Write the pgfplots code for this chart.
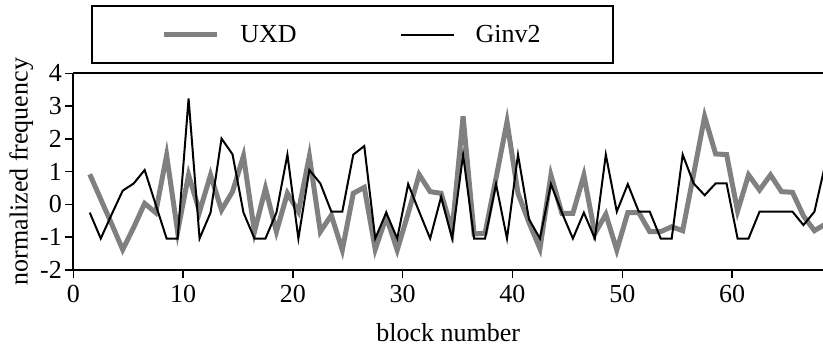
\documentclass[border=0pt]{standalone}
\usepackage{fontspec}
\setmainfont{Liberation Serif}
\usepackage{pgfplots}
\pgfplotsset{compat=1.18}
\usepackage{pgfplotstable}
\definecolor{uxdgray}{RGB}{128,128,128}
\newcommand{\fs}{\fontsize{26bp}{31bp}\selectfont}
\pgfplotstableread{
x y
1.5 0.92
2.5 0.16
3.5 -0.60
4.5 -1.38
5.5 -0.70
6.5 0.03
7.5 -0.25
8.5 1.50
9.5 -0.83
10.5 0.90
11.5 -0.22
12.5 0.90
13.5 -0.17
14.5 0.39
15.5 1.48
16.5 -0.83
17.5 0.49
18.5 -0.83
19.5 0.34
20.5 -0.22
21.5 1.47
22.5 -0.83
23.5 -0.33
24.5 -1.39
25.5 0.34
26.5 0.52
27.5 -1.37
28.5 -0.38
29.5 -1.39
30.5 -0.27
31.5 0.91
32.5 0.39
33.5 0.34
34.5 -0.80
35.5 2.69
36.5 -0.90
37.5 -0.88
38.5 0.80
39.5 2.52
40.5 0.34
41.5 -0.55
42.5 -1.35
43.5 0.89
44.5 -0.27
45.5 -0.27
46.5 0.89
47.5 -0.89
48.5 -0.30
49.5 -1.39
50.5 -0.25
51.5 -0.25
52.5 -0.83
53.5 -0.83
54.5 -0.68
55.5 -0.80
56.5 0.93
57.5 2.68
58.5 1.54
59.5 1.52
60.5 -0.20
61.5 0.90
62.5 0.44
63.5 0.90
64.5 0.39
65.5 0.37
66.5 -0.35
67.5 -0.80
68.5 -0.60
}\uxd
\pgfplotstableread{
x y
1.5 -0.25
2.5 -1.04
3.5 -0.30
4.5 0.42
5.5 0.64
6.5 1.05
7.5 0.00
8.5 -1.04
9.5 -1.04
10.5 3.23
11.5 -1.04
12.5 -0.25
13.5 2.01
14.5 1.53
15.5 -0.25
16.5 -1.04
17.5 -1.04
18.5 -0.25
19.5 1.52
20.5 -1.04
21.5 1.05
22.5 0.64
23.5 -0.22
24.5 -0.22
25.5 1.52
26.5 1.78
27.5 -1.04
28.5 -0.25
29.5 -1.04
30.5 0.62
31.5 -0.22
32.5 -1.04
33.5 0.23
34.5 -1.04
35.5 1.52
36.5 -1.04
37.5 -1.04
38.5 0.62
39.5 -1.04
40.5 1.52
41.5 -0.45
42.5 -1.04
43.5 0.62
44.5 -0.25
45.5 -1.04
46.5 -0.25
47.5 -1.04
48.5 1.52
49.5 -0.22
50.5 0.62
51.5 -0.22
52.5 -0.22
53.5 -1.04
54.5 -1.04
55.5 1.52
56.5 0.64
57.5 0.28
58.5 0.64
59.5 0.64
60.5 -1.04
61.5 -1.04
62.5 -0.22
63.5 -0.22
64.5 -0.22
65.5 -0.22
66.5 -0.63
67.5 -0.22
68.5 1.25
}\ginv
\begin{document}
\begin{tikzpicture}
\path[use as bounding box] (0,0) rectangle (823bp,347bp);
\begin{axis}[
  at={(73.3bp,77bp)}, anchor=south west,
  scale only axis, width=749.7bp, height=196.7bp,
  xmin=0, xmax=68.28, ymin=-2, ymax=4,
  xtick={0,10,...,60}, ytick={-2,-1,...,4},
  axis x line*=bottom, axis y line*=left,
  axis line style={line width=2bp, -},
  tick align=outside, major tick length=8bp,
  tick style={line width=1.5bp, black},
  /pgf/number format/assume math mode=true,
  tick label style={font=\fs},
  xticklabel style={yshift=-4bp},
  label style={font=\fs},
  xlabel style={yshift=-14bp},
  xlabel={block number}, ylabel={normalized frequency},
  legend columns=2,
  legend image code/.code={\draw[#1] (0bp,0bp) -- (53bp,0bp);},
  legend style={at={(0.3724,1.197)}, anchor=center, draw=black, line width=2bp,
    font=\fs, inner xsep=69bp, inner ysep=16.5bp,
    nodes={inner sep=3bp},
    column sep=18bp,
    /tikz/every even column/.append style={column sep=100bp}},
  after end axis/.code={\draw[line width=2bp] (rel axis cs:0,1) -- (rel axis cs:1,1);},
]
\addplot[uxdgray, line width=5bp] table[x=x,y=y] {\uxd};
\addlegendentry{UXD}
\addplot[black, line width=2bp] table[x=x,y=y] {\ginv};
\addlegendentry{Ginv2}
\end{axis}
\end{tikzpicture}
\end{document}
